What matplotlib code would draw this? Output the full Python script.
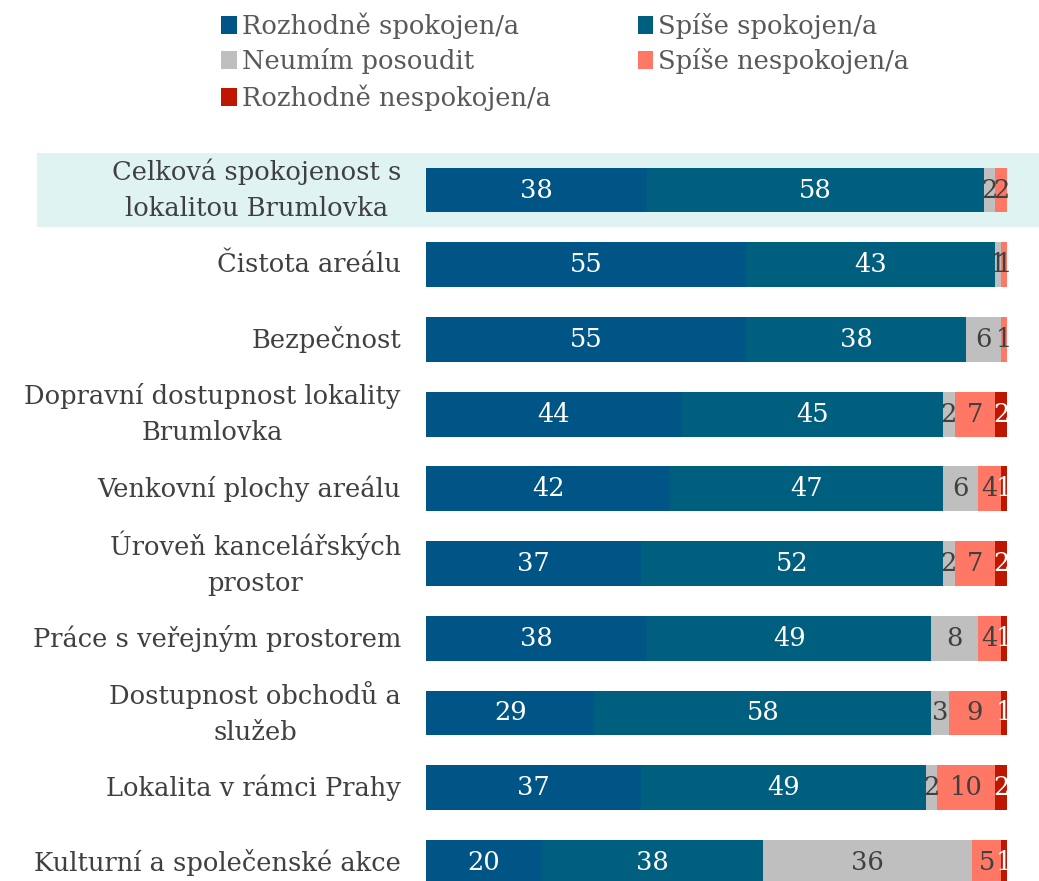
import matplotlib.pyplot as plt
from matplotlib.patches import Rectangle

categories = [
    "Celková spokojenost s\nlokalitou Brumlovka",
    "Čistota areálu",
    "Bezpečnost",
    "Dopravní dostupnost lokality\nBrumlovka",
    "Venkovní plochy areálu",
    "Úroveň kancelářských\nprostor",
    "Práce s veřejným prostorem",
    "Dostupnost obchodů a\nslužeb",
    "Lokalita v rámci Prahy",
    "Kulturní a společenské akce",
]

series_names = [
    "Rozhodně spokojen/a",
    "Spíše spokojen/a",
    "Neumím posoudit",
    "Spíše nespokojen/a",
    "Rozhodně nespokojen/a",
]

rozhodne_spokojen = [38, 55, 55, 44, 42, 37, 38, 29, 37, 20]
spise_spokojen = [58, 43, 38, 45, 47, 52, 49, 58, 49, 38]
neumim = [2, 1, 6, 2, 6, 2, 8, 3, 2, 36]
spise_nespokojen = [2, 1, 1, 7, 4, 7, 4, 9, 10, 5]
rozhodne_nespokojen = [0, 0, 0, 2, 1, 2, 1, 1, 2, 1]

series = [rozhodne_spokojen, spise_spokojen, neumim, spise_nespokojen, rozhodne_nespokojen]
colors = ["#005587", "#005F7E", "#BFBFBF", "#FF7865", "#BE1600"]
label_colors = ["white", "white", "#404040", "#404040", "white"]

plt.rcParams["font.family"] = ["DejaVu Serif"]

fig = plt.figure(figsize=(10.39, 8.81), dpi=100)
ax = fig.add_axes([426 / 1039, 0.0, (1007 - 426) / 1039, (881 - 140) / 881])

y = list(range(len(categories)))

# highlighted first row behind the bar and its label
ax.add_patch(Rectangle((-67, -0.5), 173, 1.0, facecolor="#E0F3F3",
                       edgecolor="none", clip_on=False, zorder=0))

left = [0] * len(categories)
bars = []
for vals, name, col, lcol in zip(series, series_names, colors, label_colors):
    b = ax.barh(y, vals, left=left, height=0.6, color=col, label=name, zorder=2)
    bars.append(b)
    for yi, v, l in zip(y, vals, left):
        if v > 0:
            ax.text(l + v / 2, yi, str(v), ha="center", va="center",
                    color=lcol, fontsize=18.5, zorder=3)
    left = [a + b_ for a, b_ in zip(left, vals)]

ax.set_xlim(0, 100)
ax.set_ylim(9.25, -0.67)
ax.set_yticks(y)
ax.set_yticklabels(categories, fontsize=18.5, color="#404040", ha="right",
                   va="center", multialignment="center", linespacing=1.55)
ax.tick_params(axis="y", length=0, pad=18)
ax.set_xticks([])
for s in ax.spines.values():
    s.set_visible(False)

order = [0, 2, 4, 1, 3]
fig.legend([bars[i] for i in order], [series_names[i] for i in order],
           ncol=2, loc="upper left", bbox_to_anchor=(216 / 1039, 1 - 7 / 881),
           frameon=False, fontsize=18.5, handlelength=0.6, handleheight=0.7,
           handletextpad=0.2, columnspacing=3.4, labelspacing=0.38,
           borderaxespad=0, borderpad=0.2, labelcolor="#595959")

fig.savefig("out.png", dpi=100)
